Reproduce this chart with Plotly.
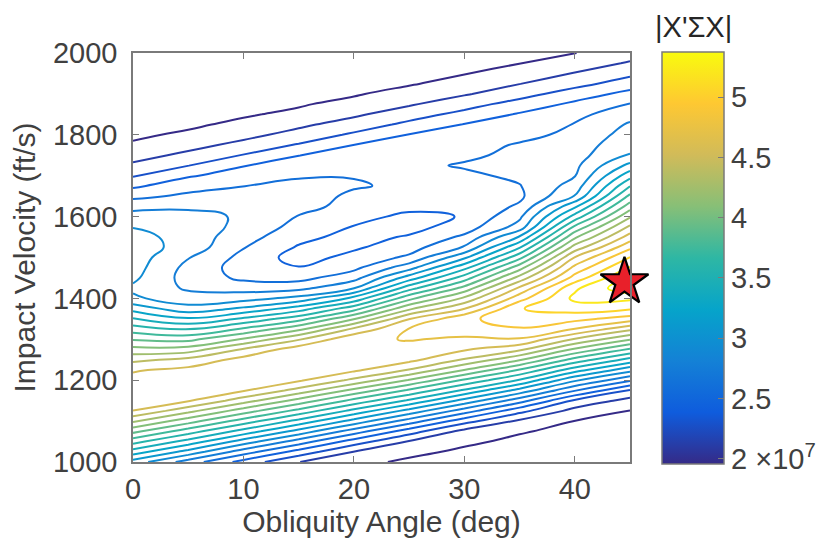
import numpy as np
import plotly.graph_objects as go

# Obliquity angle (deg) columns and impact velocity (ft/s) rows of the sampled field
angles = [0, 5, 10, 15, 20, 25, 30, 35, 40, 45]
velocities = list(range(1000, 2001, 25))

# |X'SigmaX| values (units of 1e7), one list per angle column, velocity 1000 -> 2000
z_a00 = [3.093, 3.391, 3.667, 3.954, 4.233, 4.508, 4.555, 4.57, 4.555, 4.495, 4.321, 4.113, 3.895, 3.681, 3.475, 3.25, 3.036, 2.983, 3.04, 3.07, 3.085, 3.085, 3.063, 3.003, 2.92, 2.811, 2.671, 2.533, 2.397, 2.287, 2.2, 2.125, 2.088, 2.062, 2.043, 2.025, 2.01, 1.998, 1.984, 1.972, 1.96]
z_a05 = [2.791, 3.106, 3.403, 3.682, 3.975, 4.257, 4.525, 4.563, 4.578, 4.551, 4.404, 4.135, 3.867, 3.600, 3.331, 3.064, 2.925, 2.838, 2.8, 2.815, 2.868, 2.95, 2.95, 2.935, 2.913, 2.83, 2.74, 2.65, 2.544, 2.406, 2.296, 2.208, 2.131, 2.088, 2.062, 2.043, 2.025, 2.011, 1.998, 1.986, 1.975]
z_a10 = [2.503, 2.785, 3.093, 3.403, 3.691, 3.985, 4.279, 4.525, 4.57, 4.593, 4.563, 4.380, 4.081, 3.784, 3.486, 3.189, 2.95, 2.8, 2.68, 2.643, 2.665, 2.718, 2.77, 2.823, 2.838, 2.823, 2.778, 2.707, 2.628, 2.553, 2.418, 2.305, 2.215, 2.14, 2.095, 2.068, 2.047, 2.031, 2.016, 2.002, 1.99]
z_a15 = [2.263, 2.503, 2.791, 3.106, 3.414, 3.711, 4.003, 4.303, 4.533, 4.585, 4.615, 4.593, 4.345, 4.023, 3.70, 3.382, 3.061, 2.815, 2.662, 2.568, 2.5, 2.545, 2.605, 2.658, 2.703, 2.755, 2.785, 2.763, 2.688, 2.628, 2.557, 2.425, 2.313, 2.23, 2.14, 2.095, 2.068, 2.047, 2.031, 2.017, 2.005]
z_a20 = [2.158, 2.256, 2.491, 2.785, 3.106, 3.414, 3.714, 4.014, 4.323, 4.54, 4.60, 4.635, 4.63, 4.39, 4.045, 3.70, 3.355, 3.007, 2.805, 2.673, 2.605, 2.538, 2.508, 2.553, 2.613, 2.665, 2.68, 2.725, 2.703, 2.658, 2.610, 2.563, 2.436, 2.326, 2.233, 2.155, 2.095, 2.073, 2.053, 2.035, 2.023]
z_a25 = [2.08, 2.152, 2.248, 2.485, 2.791, 3.106, 3.433, 3.735, 4.048, 4.348, 4.555, 4.615, 4.668, 4.668, 4.503, 4.18, 3.865, 3.55, 3.235, 2.95, 2.74, 2.643, 2.575, 2.508, 2.523, 2.605, 2.635, 2.68, 2.688, 2.673, 2.635, 2.605, 2.566, 2.448, 2.343, 2.242, 2.17, 2.095, 2.073, 2.053, 2.038]
z_a30 = [2.035, 2.08, 2.142, 2.211, 2.473, 2.785, 3.106, 3.433, 3.738, 4.057, 4.345, 4.525, 4.638, 4.728, 4.773, 4.506, 4.24, 3.963, 3.685, 3.415, 3.13, 2.875, 2.74, 2.628, 2.568, 2.59, 2.635, 2.665, 2.68, 2.725, 2.68, 2.65, 2.613, 2.568, 2.455, 2.35, 2.245, 2.17, 2.103, 2.077, 2.058]
z_a35 = [2.005, 2.043, 2.073, 2.125, 2.23, 2.46, 2.773, 3.106, 3.445, 3.748, 4.075, 4.39, 4.645, 4.795, 4.90, 4.953, 4.75, 4.54, 4.27, 4.00, 3.715, 3.445, 3.175, 2.92, 2.83, 2.733, 2.68, 2.703, 2.74, 2.755, 2.748, 2.725, 2.665, 2.62, 2.575, 2.47, 2.35, 2.256, 2.178, 2.107, 2.08]
z_a40 = [1.983, 2.005, 2.035, 2.065, 2.107, 2.205, 2.388, 2.722, 3.037, 3.378, 3.705, 4.033, 4.348, 4.653, 4.855, 5.028, 5.148, 5.08, 4.87, 4.705, 4.518, 4.27, 4.03, 3.79, 3.52, 3.28, 3.018, 2.92, 2.853, 2.823, 2.8, 2.778, 2.748, 2.718, 2.665, 2.59, 2.485, 2.358, 2.268, 2.185, 2.107]
z_a45 = [1.968, 1.99, 2.013, 2.043, 2.073, 2.106, 2.203, 2.398, 2.737, 3.064, 3.406, 3.735, 4.074, 4.401, 4.743, 4.978, 5.14, 5.38, 5.29, 5.125, 4.968, 4.773, 4.578, 4.39, 4.188, 3.985, 3.798, 3.603, 3.40, 3.205, 3.018, 2.965, 2.92, 2.878, 2.808, 2.718, 2.605, 2.485, 2.373, 2.275, 2.2]

# optimum marker
star_angle = [44.5]
star_velocity = [1440]

# colour bar ticks
cbar_ticks = [2, 2.5, 3, 3.5, 4, 4.5, 5]
cbar_labels = ["2 \u00d710<sup>7</sup>", "2.5", "3", "3.5", "4", "4.5", "5"]
cbar_title = "|X'\u03a3X|"
x_ticks = [0, 10, 20, 30, 40]
y_ticks = [1000, 1200, 1400, 1600, 1800, 2000]

z_min, z_max = 1.96, 5.38
level_start, level_end, level_step = 2.11, 5.26, 0.15

parula = [
    [0.0, "#352a87"], [0.125, "#0f5cdd"], [0.25, "#1481d6"], [0.375, "#06a4ca"],
    [0.5, "#2eb7a4"], [0.625, "#87bf77"], [0.75, "#d1bb59"], [0.875, "#fec832"],
    [1.0, "#f9fb0e"],
]

z_grid = np.array([z_a00, z_a05, z_a10, z_a15, z_a20, z_a25, z_a30, z_a35, z_a40, z_a45]).T

FONT = "Liberation Sans, Arial, Helvetica, sans-serif"
TXT = "#404040"
AX = "#7a7a7a"

fig = go.Figure()
fig.add_trace(go.Contour(
    x=angles, y=velocities, z=z_grid,
    zmin=z_min, zmax=z_max, zauto=False,
    colorscale=parula,
    contours=dict(coloring="lines", start=level_start, end=level_end, size=level_step),
    line=dict(width=2, smoothing=1.3),
    showscale=False, hoverinfo="skip",
))
fig.add_trace(go.Scatter(
    x=[None], y=[None], mode="markers", showlegend=False, hoverinfo="skip",
    marker=dict(
        color=[z_min], cmin=z_min, cmax=z_max, colorscale=parula, showscale=True,
        colorbar=dict(
            thickness=62, thicknessmode="pixels", len=1.007, lenmode="fraction",
            x=1.064, xanchor="left", y=0.5, yanchor="middle", xpad=0, ypad=0,
            outlinecolor=AX, outlinewidth=1.5,
            ticks="inside", ticklen=6, tickcolor=AX, tickwidth=1.2,
            tickvals=cbar_ticks, ticktext=cbar_labels,
            tickfont=dict(size=29, color=TXT, family=FONT),
        ),
    ),
))
fig.add_trace(go.Scatter(
    x=star_angle, y=star_velocity, mode="markers", showlegend=False, cliponaxis=False,
    marker=dict(symbol="star", size=36, color="#e8202a", line=dict(color="black", width=2.2)),
))

axis_common = dict(
    showgrid=False, zeroline=False, showline=True, mirror="ticks",
    linecolor=AX, linewidth=1.5, ticks="inside", ticklen=6, tickcolor=AX, tickwidth=1.2,
    tickfont=dict(size=29, color=TXT, family=FONT),
)
fig.update_layout(
    width=821, height=545,
    margin=dict(l=133, r=191, t=53, b=83, autoexpand=False),
    paper_bgcolor="white", plot_bgcolor="white",
    font=dict(family=FONT, color=TXT),
    xaxis=dict(range=[0, 45], tickvals=x_ticks,
               title=dict(text="Obliquity Angle (deg)", font=dict(size=30, color=TXT), standoff=4),
               **axis_common),
    yaxis=dict(range=[1000, 2000], tickvals=y_ticks, ticklabelstandoff=8,
               title=dict(text="Impact Velocity (ft/s)", font=dict(size=30, color=TXT), standoff=8),
               **axis_common),
    annotations=[dict(
        text=cbar_title, xref="paper", yref="paper", x=1.128, y=1.02,
        xanchor="center", yanchor="bottom", showarrow=False,
        font=dict(size=29, color="#262626", family=FONT),
    )],
)
fig.write_html("out.html")
